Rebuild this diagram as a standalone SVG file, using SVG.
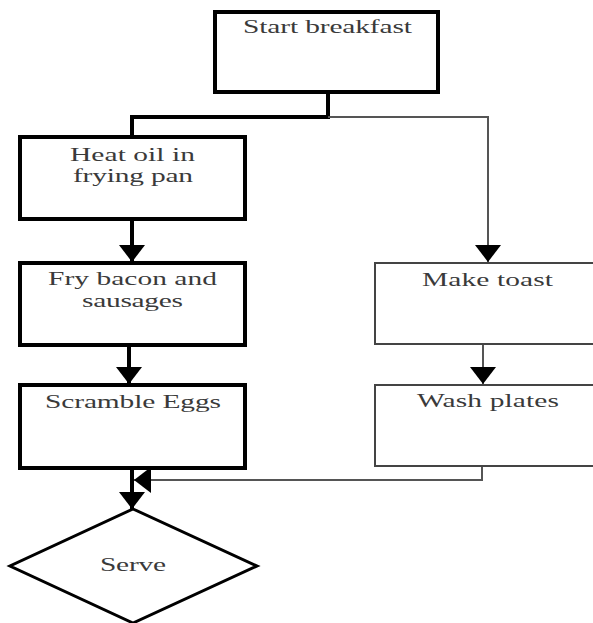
<svg xmlns="http://www.w3.org/2000/svg" width="593" height="623" viewBox="0 0 593 623">
  <style>
    .thick { fill: #fff; stroke: #000; stroke-width: 4; }
    .thin { fill: #fff; stroke: #444; stroke-width: 2; }
    .lbl { font-family: "Liberation Serif", "Times New Roman", serif; font-size: 19px; fill: #3a3a3a; text-anchor: middle; }
    .cthick { fill: none; stroke: #000; stroke-width: 4; }
    .cthin { fill: none; stroke: #555; stroke-width: 2; }
  </style>
  <defs>
    <marker id="ah" viewBox="0 0 17 26" markerUnits="userSpaceOnUse" markerWidth="17" markerHeight="26" refX="17" refY="13" orient="auto">
      <path d="M0,0 L17,13 L0,26 z" fill="#000"/>
    </marker>
  </defs>
  <rect width="593" height="623" fill="#fff"/>

  <g id="connectors">
    <path class="cthick" d="M328,92 V117 H132 V137"/>
    <path class="cthin" d="M328,117 H488 V262" marker-end="url(#ah)"/>
    <path class="cthick" d="M132,219 V262" marker-end="url(#ah)"/>
    <path class="cthick" d="M129,345 V384" marker-end="url(#ah)"/>
    <path class="cthick" d="M132,468 V509" marker-end="url(#ah)"/>
    <path class="cthin" d="M483,344 V384" marker-end="url(#ah)"/>
    <path class="cthin" d="M482,466 V480 H134" marker-end="url(#ah)"/>
  </g>

  <g id="start">
    <rect class="thick" x="215" y="12" width="223" height="80"/>
    <text class="lbl" transform="translate(327.5,33) scale(1.55,1)" textLength="109" lengthAdjust="spacing">Start breakfast</text>
  </g>
  <g id="heat">
    <rect class="thick" x="20" y="137" width="225" height="82"/>
    <text class="lbl" transform="translate(132.5,161) scale(1.55,1)" textLength="80.6" lengthAdjust="spacing">Heat oil in</text>
    <text class="lbl" transform="translate(133,182) scale(1.55,1)" textLength="77.4" lengthAdjust="spacing">frying pan</text>
  </g>
  <g id="fry">
    <rect class="thick" x="20" y="263" width="225" height="82"/>
    <text class="lbl" transform="translate(132.5,285) scale(1.55,1)" textLength="109" lengthAdjust="spacing">Fry bacon and</text>
    <text class="lbl" transform="translate(132.5,307) scale(1.55,1)" textLength="65.2" lengthAdjust="spacing">sausages</text>
  </g>
  <g id="scramble">
    <rect class="thick" x="20" y="385" width="225" height="83"/>
    <text class="lbl" transform="translate(133,408) scale(1.55,1)" textLength="113.5" lengthAdjust="spacing">Scramble Eggs</text>
  </g>
  <g id="toast">
    <rect class="thin" x="375" y="263" width="230" height="81"/>
    <text class="lbl" transform="translate(487.5,286) scale(1.55,1)" textLength="84.5" lengthAdjust="spacing">Make toast</text>
  </g>
  <g id="wash">
    <rect class="thin" x="375" y="385" width="230" height="81"/>
    <text class="lbl" transform="translate(488,407) scale(1.55,1)" textLength="91.6" lengthAdjust="spacing">Wash plates</text>
  </g>
  <g id="serve">
    <polygon points="133,509 257,566 133,623 10,566" fill="#fff" stroke="#000" stroke-width="3"/>
    <text class="lbl" transform="translate(133,571) scale(1.55,1)" textLength="42.6" lengthAdjust="spacing">Serve</text>
  </g>
</svg>
